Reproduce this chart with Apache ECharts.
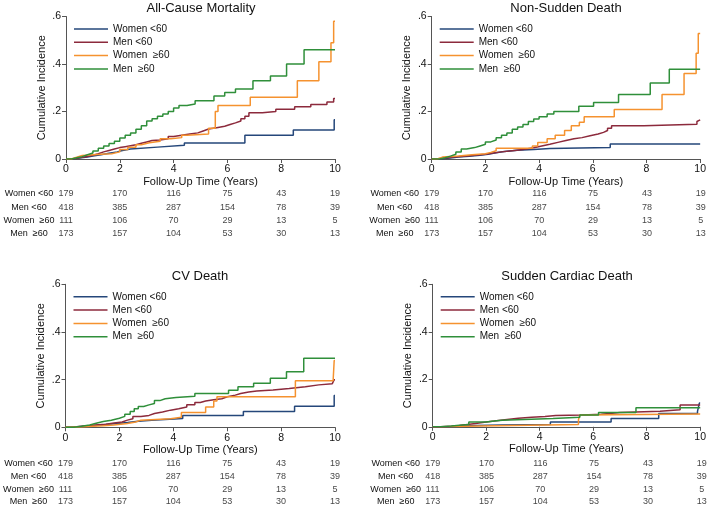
<!DOCTYPE html>
<html><head><meta charset="utf-8">
<script src="https://cdn.jsdelivr.net/npm/echarts@6/dist/echarts.min.js"></script>
<style>html,body{margin:0;padding:0;background:#fff}#c{width:709px;height:508px}</style>
</head><body><div id="c"></div>
<script>
// ---------- DATA ----------
const groupNames = ['Women <60', 'Men <60', 'Women  ≥60', 'Men  ≥60'];
const panelTitles = ['All-Cause Mortality', 'Non-Sudden Death', 'CV Death', 'Sudden Cardiac Death'];
const riskTimes = [0, 2, 4, 6, 8, 10];
const riskWomenLt60 = [179, 170, 116, 75, 43, 19];
const riskMenLt60 = [418, 385, 287, 154, 78, 39];
const riskWomenGe60 = [111, 106, 70, 29, 13, 5];
const riskMenGe60 = [173, 157, 104, 53, 30, 13];

// All-Cause Mortality  [years, cumulative incidence]
const acWomenLt60 = [[0,0],[0.2,0.004],[0.5,0.008],[0.8,0.013],[1.0,0.018],[1.3,0.024],[1.6,0.03],[1.9,0.036],[2.1,0.042],[2.4,0.05],[3.4,0.058],[4.4,0.067],[6.65,0.1],[8.45,0.122],[9.97,0.165],[10,0.165]];
const acMenLt60 = [[0,0],[0.2,0.003],[0.4,0.007],[0.6,0.011],[0.8,0.016],[1.0,0.022],[1.2,0.03],[1.4,0.036],[1.6,0.042],[1.8,0.048],[2.0,0.052],[2.2,0.056],[2.4,0.06],[2.6,0.066],[2.8,0.072],[3.0,0.078],[3.2,0.08],[3.5,0.085],[3.8,0.095],[4.0,0.1],[4.3,0.105],[4.6,0.11],[4.9,0.118],[5.1,0.126],[5.3,0.132],[5.6,0.138],[5.9,0.145],[6.1,0.152],[6.3,0.16],[6.5,0.17],[6.65,0.18],[6.8,0.195],[7.3,0.2],[7.8,0.21],[8.5,0.22],[9.1,0.23],[9.7,0.24],[9.95,0.255],[10,0.255]];
const acWomenGe60 = [[0,0],[0.2,0.008],[0.4,0.015],[0.6,0.02],[1.3,0.022],[1.7,0.03],[2.0,0.04],[2.3,0.05],[2.6,0.06],[2.8,0.068],[3.1,0.075],[3.5,0.085],[3.9,0.09],[4.3,0.1],[4.5,0.105],[5.3,0.13],[5.55,0.2],[5.65,0.225],[6.85,0.26],[8.6,0.33],[9.4,0.41],[9.85,0.49],[9.95,0.58],[10,0.58]];
const acMenGe60 = [[0,0],[0.2,0.005],[0.4,0.01],[0.6,0.018],[0.8,0.025],[1.0,0.034],[1.2,0.045],[1.4,0.055],[1.6,0.065],[1.8,0.075],[2.0,0.088],[2.2,0.1],[2.4,0.11],[2.6,0.125],[2.8,0.14],[3.0,0.16],[3.2,0.17],[3.4,0.18],[3.6,0.19],[3.8,0.2],[4.0,0.215],[4.2,0.225],[4.5,0.232],[4.8,0.245],[5.5,0.265],[5.9,0.28],[6.3,0.295],[6.95,0.33],[7.6,0.35],[8.2,0.40],[8.85,0.46],[10,0.46]];

// Non-Sudden Death
const nsWomenLt60 = [[0,0],[0.3,0.004],[0.7,0.008],[1.0,0.012],[1.4,0.016],[1.8,0.02],[2.1,0.026],[2.4,0.032],[2.7,0.037],[3.2,0.04],[3.8,0.044],[4.4,0.048],[6.65,0.063],[10,0.063]];
const nsMenLt60 = [[0,0],[0.2,0.004],[0.5,0.008],[0.8,0.012],[1.2,0.016],[1.6,0.02],[2.0,0.025],[2.3,0.03],[2.6,0.035],[3.0,0.04],[3.4,0.047],[3.8,0.055],[4.1,0.062],[4.4,0.07],[4.7,0.078],[5.0,0.085],[5.3,0.09],[5.6,0.098],[5.9,0.105],[6.2,0.112],[6.4,0.12],[6.55,0.13],[6.7,0.14],[7.9,0.146],[9.88,0.158],[9.95,0.165],[10,0.165]];
const nsWomenGe60 = [[0,0],[0.2,0.008],[0.4,0.013],[1.0,0.018],[1.5,0.022],[2.0,0.028],[2.2,0.035],[2.4,0.045],[3.75,0.055],[3.95,0.07],[4.3,0.085],[4.6,0.1],[4.95,0.12],[5.2,0.14],[5.5,0.155],[5.68,0.178],[6.8,0.208],[8.58,0.272],[9.4,0.36],[9.85,0.445],[9.93,0.528],[10,0.528]];
const nsMenGe60 = [[0,0],[0.3,0.005],[0.5,0.012],[0.7,0.02],[0.9,0.03],[1.1,0.042],[1.3,0.048],[1.6,0.055],[1.8,0.062],[2.0,0.072],[2.2,0.08],[2.4,0.09],[2.6,0.1],[2.8,0.11],[3.0,0.125],[3.2,0.135],[3.4,0.145],[3.6,0.158],[3.8,0.168],[4.0,0.178],[4.3,0.19],[4.55,0.2],[5.48,0.222],[6.03,0.238],[6.96,0.272],[8.14,0.32],[8.85,0.378],[10,0.378]];

// CV Death
const cvWomenLt60 = [[0,0],[0.3,0.004],[0.7,0.008],[1.1,0.012],[1.5,0.016],[1.9,0.02],[2.3,0.025],[2.7,0.03],[3.2,0.037],[4.35,0.05],[6.6,0.066],[8.5,0.088],[9.97,0.133],[10,0.133]];
const cvMenLt60 = [[0,0],[0.2,0.003],[0.5,0.006],[0.8,0.01],[1.1,0.013],[1.5,0.018],[1.8,0.022],[2.1,0.03],[2.3,0.036],[2.5,0.045],[2.8,0.05],[3.1,0.058],[3.3,0.064],[3.6,0.072],[3.9,0.078],[4.2,0.085],[4.5,0.095],[4.8,0.104],[5.0,0.11],[5.2,0.116],[5.5,0.12],[5.8,0.128],[6.0,0.135],[6.3,0.142],[6.5,0.148],[6.8,0.152],[7.1,0.157],[7.7,0.163],[8.3,0.17],[8.9,0.178],[9.4,0.183],[9.9,0.19],[9.97,0.2],[10,0.2]];
const cvWomenGe60 = [[0,0],[0.2,0.003],[0.8,0.006],[1.4,0.01],[1.8,0.016],[2.3,0.022],[2.6,0.03],[2.8,0.036],[3.9,0.042],[4.3,0.062],[5.2,0.085],[5.5,0.11],[5.62,0.128],[8.53,0.195],[9.93,0.2],[9.97,0.28],[10,0.28]];
const cvMenGe60 = [[0,0],[0.3,0.004],[0.6,0.01],[0.9,0.016],[1.1,0.024],[1.4,0.03],[1.7,0.038],[2.0,0.046],[2.2,0.055],[2.4,0.066],[2.55,0.078],[2.7,0.087],[2.9,0.094],[3.1,0.1],[3.3,0.112],[3.5,0.12],[3.7,0.125],[4.1,0.13],[4.8,0.142],[6.05,0.155],[6.4,0.17],[6.98,0.185],[7.6,0.206],[8.2,0.233],[8.84,0.29],[10,0.29]];

// Sudden Cardiac Death
const scWomenLt60 = [[0,0],[0.5,0.002],[1.0,0.005],[1.6,0.008],[2.6,0.01],[4.4,0.02],[6.67,0.035],[8.45,0.056],[9.9,0.065],[9.97,0.1],[10,0.1]];
const scMenLt60 = [[0,0],[0.3,0.002],[0.7,0.005],[1.0,0.01],[1.3,0.014],[1.6,0.02],[2.0,0.024],[2.3,0.03],[2.7,0.036],[3.2,0.04],[3.7,0.043],[4.2,0.048],[4.6,0.05],[5.6,0.053],[6.3,0.06],[7.0,0.065],[8.5,0.072],[9.25,0.092],[10,0.092]];
const scWomenGe60 = [[0,0],[0.4,0.003],[1.75,0.01],[5.45,0.03],[5.5,0.05],[5.6,0.054],[10,0.054]];
const scMenGe60 = [[0,0],[0.3,0.003],[0.7,0.007],[1.0,0.01],[1.35,0.02],[2.0,0.024],[2.3,0.028],[2.6,0.035],[4.5,0.04],[5.5,0.05],[6.2,0.06],[7.6,0.08],[10,0.08]];

// ---------- STYLE / LAYOUT ----------
const groupColors = ['#25477a', '#8c2a3c', '#f5922f', '#2f8f3a'];
const FONT = '"Liberation Sans", Arial, Helvetica, sans-serif';
const panels = [
  {left: 66,    top: 16.5,  width: 269,   height: 142.5, tTop: 187.3, tH: 53.3, cx: 201, cy: 8,
   series: [acWomenLt60, acMenLt60, acWomenGe60, acMenGe60]},
  {left: 431.7, top: 16.5,  width: 269,   height: 142.5, tTop: 187.3, tH: 53.3, cx: 566, cy: 8,
   series: [nsWomenLt60, nsMenLt60, nsWomenGe60, nsMenGe60]},
  {left: 65.5,  top: 284.3, width: 269.5, height: 143,   tTop: 457.5, tH: 52, cx: 200, cy: 276,
   series: [cvWomenLt60, cvMenLt60, cvWomenGe60, cvMenGe60]},
  {left: 432.7, top: 284.3, width: 269,   height: 142.5, tTop: 457.5, tH: 52, cx: 567, cy: 276,
   series: [scWomenLt60, scMenLt60, scWomenGe60, scMenGe60]}
];
const riskRows = [riskWomenLt60, riskMenLt60, riskWomenGe60, riskMenGe60];

const grid = [], xAxis = [], yAxis = [], series = [], legend = [], graphic = [];
const axisCol = '#555', txtCol = '#111';

panels.forEach((p, i) => {
  grid.push({left: p.left, top: p.top, width: p.width, height: p.height, containLabel: false});
  xAxis.push({
    type: 'value', gridIndex: i, min: 0, max: 10, interval: 2,
    name: 'Follow-Up Time (Years)', nameLocation: 'middle', nameGap: 17,
    nameTextStyle: {fontSize: 11, color: txtCol, fontFamily: FONT},
    axisLine: {show: true, lineStyle: {color: axisCol, width: 1}},
    axisTick: {show: true, length: 4, lineStyle: {color: axisCol}},
    axisLabel: {fontSize: 10.5, color: txtCol, fontFamily: FONT, margin: 5},
    splitLine: {show: false}
  });
  yAxis.push({
    type: 'value', gridIndex: i, min: 0, max: 0.6, interval: 0.2,
    name: 'Cumulative Incidence', nameLocation: 'middle', nameGap: 19, nameRotate: 90,
    nameTextStyle: {fontSize: 11, color: txtCol, fontFamily: FONT},
    axisLine: {show: true, lineStyle: {color: axisCol, width: 1}},
    axisTick: {show: true, length: 4, lineStyle: {color: axisCol}},
    axisLabel: {fontSize: 10.5, color: txtCol, fontFamily: FONT, margin: 5,
      formatter: v => v === 0 ? '0' : v.toFixed(1).replace(/^0/, '')},
    splitLine: {show: false}
  });
  p.series.forEach((d, k) => {
    series.push({
      type: 'line', name: groupNames[k], xAxisIndex: i, yAxisIndex: i,
      data: d, step: 'end', showSymbol: false, symbol: 'none',
      color: groupColors[k], lineStyle: {width: 1.5, color: groupColors[k]},
      animation: false, z: 2 + k
    });
  });
  legend.push({
    left: p.left + 8, top: p.top + 6.5, orient: 'vertical', padding: 0,
    icon: 'rect', itemWidth: 34, itemHeight: 1.5, itemGap: 1.3,
    textStyle: {fontSize: 10, lineHeight: 12, color: txtCol, fontFamily: FONT},
    data: groupNames, selectedMode: false
  });
  graphic.push({type: 'text', x: p.cx, y: p.cy,
    style: {text: panelTitles[i], fontSize: 13, fontFamily: FONT, fill: txtCol, align: 'center', verticalAlign: 'middle'}});
});

// Number-at-risk tables (separate grids sharing the same 0..10 scale)
panels.forEach((p, i) => {
  const gi = 4 + i;
  grid.push({left: p.left, top: p.tTop, width: p.width, height: p.tH});
  xAxis.push({type: 'value', gridIndex: gi, min: 0, max: 10, show: false});
  yAxis.push({
    type: 'category', gridIndex: gi, data: groupNames, inverse: true,
    axisLine: {show: false}, axisTick: {show: false}, splitLine: {show: false},
    axisLabel: {fontSize: 9, color: txtCol, fontFamily: FONT, align: 'center', margin: 37}
  });
  const data = [];
  riskRows.forEach((row, r) => row.forEach((n, t) => data.push([riskTimes[t], groupNames[r], n])));
  series.push({
    type: 'scatter', xAxisIndex: gi, yAxisIndex: gi, data,
    symbolSize: 1, itemStyle: {color: 'rgba(0,0,0,0)'}, silent: true, animation: false,
    label: {show: true, position: 'inside', formatter: q => q.value[2],
      fontSize: 9, color: txtCol, fontFamily: FONT}
  });
});

const chart = echarts.init(document.getElementById('c'), null, {renderer: 'canvas'});
chart.setOption({
  backgroundColor: '#fff', animation: false,
  grid, xAxis, yAxis, series, legend, graphic
});
</script></body></html>
